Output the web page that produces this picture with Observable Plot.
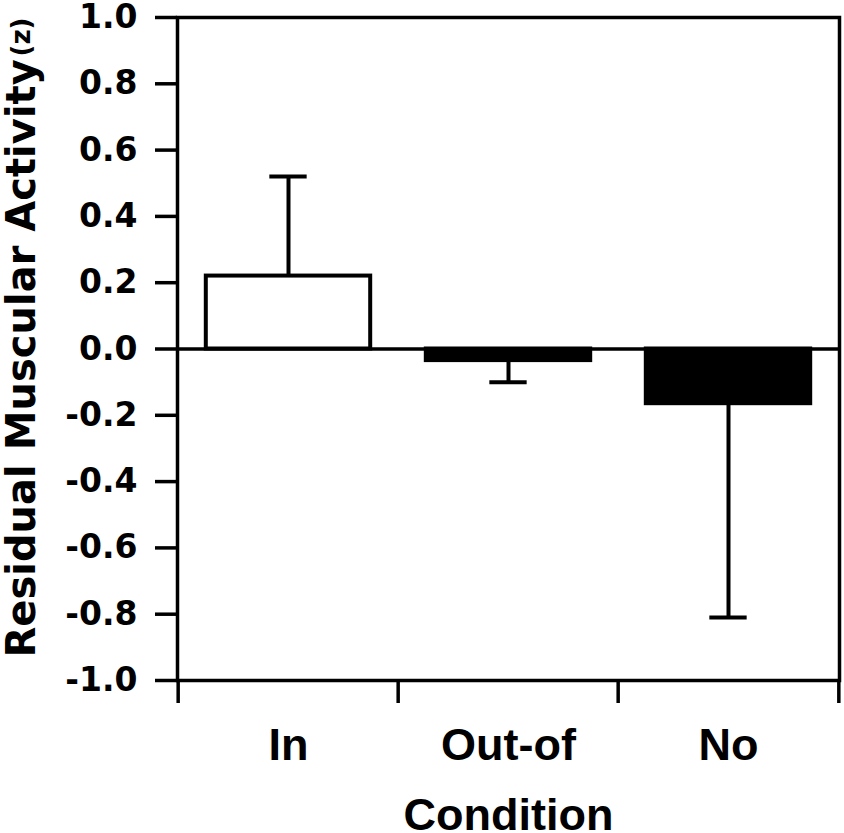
<!DOCTYPE html>
<html>
<head>
<meta charset="utf-8">
<script src="https://cdn.jsdelivr.net/npm/d3@7"></script>
<script src="https://cdn.jsdelivr.net/npm/@observablehq/plot@0.6"></script>
<style>
  html, body { margin: 0; padding: 0; background: white; }
  #chart svg { display: block; }
</style>
</head>
<body>
<div id="chart"></div>
<script>
// Data
const categories = ["In", "Out-of", "No"];
const means = [0.22, -0.035, -0.165];
const errorEnds = [0.52, -0.10, -0.81];
const barFills = ["white", "black", "black"];
const yTicks = [-1.0, -0.8, -0.6, -0.4, -0.2, 0.0, 0.2, 0.4, 0.6, 0.8, 1.0];
const yTitle = "Residual Muscular Activity";
const yUnit = "(z)";
const xTitle = "Condition";

const data = categories.map((c, i) => ({
  condition: c, mean: means[i], err: errorEnds[i], fill: barFills[i]
}));

const W = 844, H = 833;
const mL = 177, mR = 5, mT = 17, mB = 153;
const bw = (W - mL - mR) / categories.length;
const barInset = 27.8;
const capInset = (bw - 38) / 2;

const chart = Plot.plot({
  width: W, height: H,
  marginLeft: mL, marginRight: mR, marginTop: mT, marginBottom: mB,
  style: {fontFamily: "DejaVu Sans", fontWeight: "bold", color: "black", background: "white", overflow: "visible"},
  x: {domain: categories, padding: 0, label: null},
  y: {domain: [-1, 1], label: null},
  marks: [
    Plot.barY(data, {x: "condition", y: "mean", fill: d => d.fill, stroke: "black", strokeWidth: 4, insetLeft: barInset, insetRight: barInset}),
    Plot.ruleX(data, {x: "condition", y1: "mean", y2: "err", stroke: "black", strokeWidth: 4}),
    Plot.tickY(data, {x: "condition", y: "err", stroke: "black", strokeWidth: 4, insetLeft: capInset, insetRight: capInset}),
    Plot.ruleY([0], {stroke: "black", strokeWidth: 3.5}),
    Plot.frame({stroke: "black", strokeWidth: 3.5}),
    Plot.axisY(yTicks, {tickSize: 22, tickPadding: 18, tickFormat: d => d.toFixed(1), fontSize: 33, strokeWidth: 3.5, label: null}),
    Plot.axisX({tickSize: 0, tickPadding: 48, fontSize: 45, fontFamily: "Liberation Sans", label: null}),
    Plot.axisX(categories, {text: null, tickSize: 23, dx: -bw / 2, strokeWidth: 3.5, label: null}),
    Plot.axisX([categories[categories.length - 1]], {text: null, tickSize: 23, dx: bw / 2, strokeWidth: 3.5, label: null}),
    Plot.text([xTitle], {text: d => d, frameAnchor: "bottom", lineAnchor: "top", dy: 118, fontSize: 45, fontFamily: "Liberation Sans"}),
    Plot.text([yTitle], {text: d => d, frameAnchor: "bottom-left", rotate: -90, textAnchor: "start", lineAnchor: "middle", dx: -155, dy: -23, fontSize: 40}),
    Plot.text([yUnit], {text: d => d, frameAnchor: "top-left", rotate: -90, textAnchor: "end", lineAnchor: "middle", dx: -156, dy: 0, fontSize: 26})
  ]
});
document.getElementById("chart").appendChild(chart);
</script>
</body>
</html>
